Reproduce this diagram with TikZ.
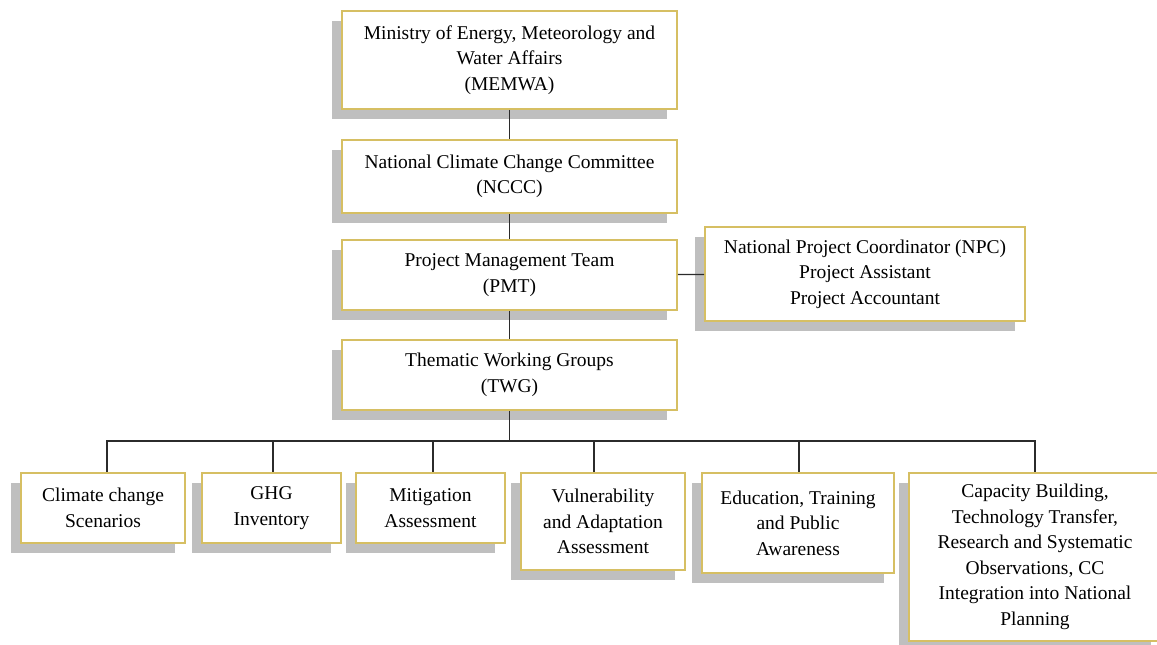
\documentclass[tikz,border=0pt]{standalone}
\usepackage{fontspec}
\setmainfont{Liberation Serif}
\usepackage{tikz}
\usetikzlibrary{shadows}
\definecolor{boxline}{HTML}{D6BF63}
\definecolor{boxshade}{HTML}{BFBFBF}
\definecolor{linkline}{HTML}{2B2B2B}

\begin{document}
\begin{tikzpicture}[x=1pt,y=1pt,
  orgbox/.style={draw=boxline,line width=1.6pt,fill=white,align=center,
    inner sep=2pt,font=\fontsize{19.5}{25.5}\selectfont,
    general shadow={fill=boxshade,shadow xshift=-10pt,shadow yshift=-10pt}},
  link/.style={draw=linkline,line width=1.4pt}]
\useasboundingbox (0,0) rectangle (1157,-645);
% MEMWA
\node[orgbox,minimum width=335,minimum height=98] (memwa) at (509.5,-60)
  {Ministry of Energy, Meteorology and\\ Water Affairs\\ (MEMWA)};
% NCCC
\node[orgbox,minimum width=335,minimum height=73] (nccc) at (509.5,-176.5)
  {National Climate Change Committee\\ (NCCC)};
% PMT
\node[orgbox,minimum width=335,minimum height=70] (pmt) at (509.5,-275)
  {Project Management Team\\ (PMT)};
% NPC
\node[orgbox,minimum width=320,minimum height=94] (npc) at (865,-274)
  {National Project Coordinator (NPC)\\ Project Assistant\\ Project Accountant};
% TWG
\node[orgbox,minimum width=335,minimum height=70] (twg) at (509.5,-375)
  {Thematic Working Groups\\ (TWG)};
% working groups
\node[orgbox,minimum width=164,minimum height=70] (ccs) at (103,-508)
  {Climate change\\ Scenarios};
\node[orgbox,minimum width=139,minimum height=70] (ghg) at (271.5,-508)
  {GHG\\ Inventory};
\node[orgbox,minimum width=149,minimum height=70] (mit) at (430.5,-508)
  {Mitigation\\ Assessment};
\node[orgbox,minimum width=164,minimum height=97] (vul) at (603,-521.5)
  {Vulnerability\\ and Adaptation\\ Assessment};
\node[orgbox,minimum width=192,minimum height=100] (edu) at (798,-523)
  {Education, Training\\ and Public\\ Awareness};
\node[orgbox,minimum width=252,minimum height=168] (cap) at (1035,-557)
  {Capacity Building,\\ Technology Transfer,\\ Research and Systematic\\
   Observations, CC\\ Integration into National\\ Planning};
% links
\draw[link] (memwa) -- (nccc);
\draw[link] (nccc) -- (pmt);
\draw[link] (pmt) -- (twg);
\draw[link] (pmt) -- (npc);
\coordinate (bus) at (509.5,-441);
\draw[link] (twg) -- (bus);
\draw[link] (bus) -| ([xshift=4pt]ccs.north);
\draw[link] (bus) -| ([xshift=1.5pt]ghg.north);
\draw[link] (bus) -| ([xshift=2.5pt]mit.north);
\draw[link] (bus) -| ([xshift=-9pt]vul.north);
\draw[link] (bus) -| ([xshift=1pt]edu.north);
\draw[link] (bus) -| (cap.north);
\end{tikzpicture}
\end{document}
